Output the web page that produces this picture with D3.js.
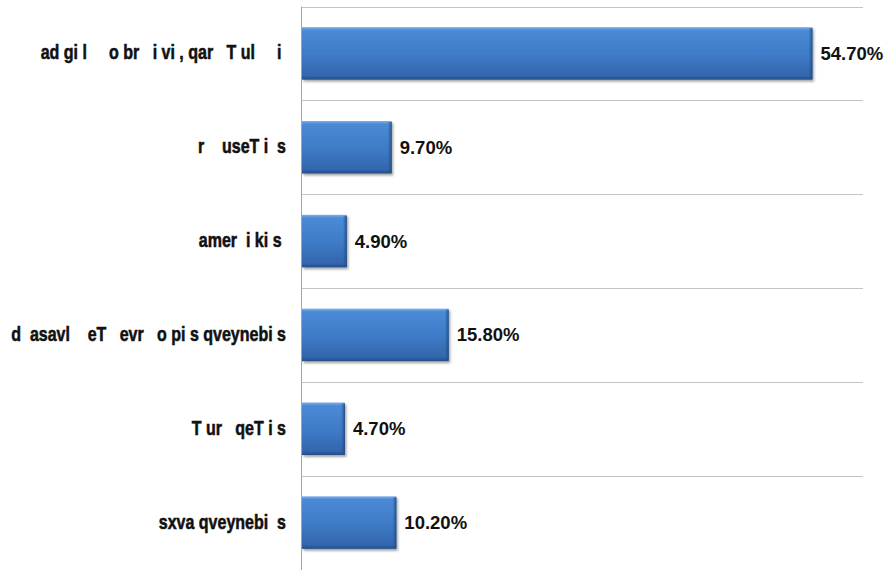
<!DOCTYPE html>
<html>
<head>
<meta charset="utf-8">
<script src="https://cdn.jsdelivr.net/npm/d3@7"></script>
<style>
  html, body { margin: 0; padding: 0; background: #fff; }
  svg { display: block; }
  .cat { font-family: "Liberation Sans", Arial, sans-serif; font-weight: bold; white-space: pre; }
  .val { font-family: "Liberation Sans", Arial, sans-serif; font-weight: bold; }
</style>
</head>
<body>
<svg id="chart" width="889" height="570"></svg>
<script>
const categories = [
  "ad gi l     o br   i vi , qar   T ul     i ",
  "r    useT i  s",
  "amer  i ki s ",
  "d  asavl    eT   evr   o pi s qveynebi s",
  "T ur   qeT i s",
  "sxva qveynebi  s"
];
const values = [54.7, 9.7, 4.9, 15.8, 4.7, 10.2];
const valueLabels = ["54.70%", "9.70%", "4.90%", "15.80%", "4.70%", "10.20%"];
const xDomain = [0, 60];

const svg = d3.select("#chart");
const plotLeft = 301, plotRight = 862, plotTop = 6.5, plotBottom = 569.5;

const x = d3.scaleLinear().domain(xDomain).range([plotLeft, plotRight]);
const y = d3.scaleBand().domain(categories).range([plotTop, plotBottom])
  .paddingInner(0.44).paddingOuter(0.22);

const defs = svg.append("defs");
const grad = defs.append("linearGradient").attr("id", "barGrad")
  .attr("x1", 0).attr("y1", 0).attr("x2", 0).attr("y2", 1);
grad.append("stop").attr("offset", "0%").attr("stop-color", "#7fb0ea");
grad.append("stop").attr("offset", "6%").attr("stop-color", "#4b8ad6");
grad.append("stop").attr("offset", "50%").attr("stop-color", "#3f7cc8");
grad.append("stop").attr("offset", "92%").attr("stop-color", "#3366ae");
grad.append("stop").attr("offset", "100%").attr("stop-color", "#244c86");

const gradR = defs.append("linearGradient").attr("id", "edgeGrad")
  .attr("x1", 0).attr("y1", 0).attr("x2", 1).attr("y2", 0);
gradR.append("stop").attr("offset", "0%").attr("stop-color", "#2c5a98").attr("stop-opacity", 0);
gradR.append("stop").attr("offset", "100%").attr("stop-color", "#1f4477").attr("stop-opacity", 0.9);

const shadow = defs.append("filter").attr("id", "shadow")
  .attr("x", "-5%").attr("y", "-10%").attr("width", "115%").attr("height", "130%");
shadow.append("feDropShadow").attr("dx", 1.5).attr("dy", 2).attr("stdDeviation", 1.3)
  .attr("flood-color", "#000").attr("flood-opacity", 0.35);

// horizontal gridlines (band boundaries)
const bounds = categories.map(c => y(c) - y.step() * y.paddingInner() / 2);
bounds[0] = plotTop;
bounds.push(plotBottom);
svg.append("g").selectAll("line").data(bounds).join("line")
  .attr("x1", plotLeft).attr("x2", plotRight + 1)
  .attr("y1", d => Math.round(d) + 0.5).attr("y2", d => Math.round(d) + 0.5)
  .attr("stroke", "#c4c4c4").attr("stroke-width", 1);

// vertical axis line
svg.append("line")
  .attr("x1", plotLeft + 0.5).attr("x2", plotLeft + 0.5)
  .attr("y1", plotTop).attr("y2", plotBottom + 1)
  .attr("stroke", "#a6a6a6").attr("stroke-width", 1);

// bars
const bars = svg.append("g").selectAll("g").data(values).join("g");
bars.append("rect")
  .attr("x", plotLeft + 1)
  .attr("y", (d, i) => y(categories[i]))
  .attr("width", d => x(d) - plotLeft - 1)
  .attr("height", y.bandwidth())
  .attr("fill", "url(#barGrad)")
  .attr("filter", "url(#shadow)");
bars.append("rect")
  .attr("x", d => x(d) - 4)
  .attr("y", (d, i) => y(categories[i]) + 1)
  .attr("width", 4)
  .attr("height", y.bandwidth() - 2)
  .attr("fill", "url(#edgeGrad)");

// value labels
svg.append("g").selectAll("text").data(values).join("text")
  .attr("class", "val")
  .attr("x", d => x(d) + 8)
  .attr("y", (d, i) => y(categories[i]) + y.bandwidth() / 2 + 6.5)
  .attr("font-size", 18.5)
  .attr("fill", "#111")
  .text((d, i) => valueLabels[i]);

// category labels (condensed bold face)
svg.append("g").selectAll("text").data(categories).join("text")
  .attr("class", "cat")
  .attr("transform", d => `translate(${plotLeft - 15},${y(d) + y.bandwidth() / 2 + 6}) scale(0.8,1)`)
  .attr("text-anchor", "end")
  .attr("font-size", 20)
  .attr("fill", "#111")
  .attr("stroke", "#111")
  .attr("stroke-width", 0.55)
  .text(d => d);
</script>
</body>
</html>
